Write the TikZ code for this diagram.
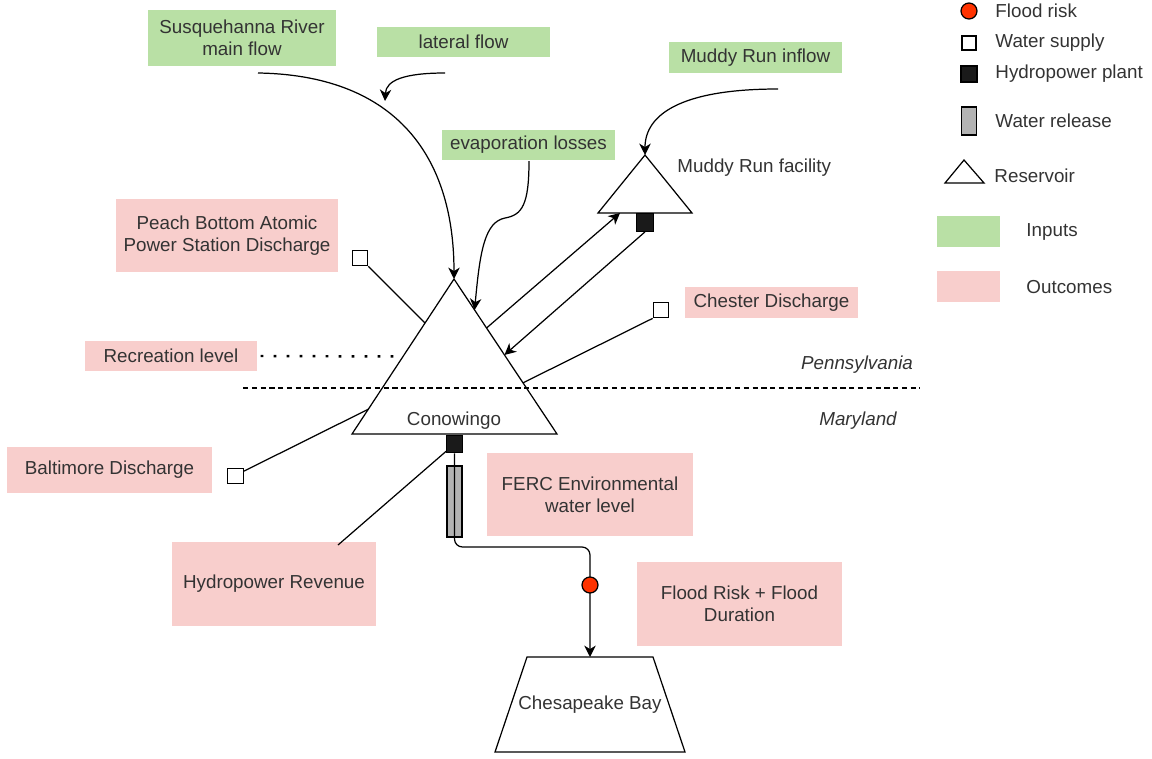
\documentclass[tikz,border=0pt]{standalone}
\usepackage{fontspec}
\setmainfont{Liberation Sans}
\usetikzlibrary{arrows.meta,calc}

\begin{document}
\begin{tikzpicture}[x=0.02cm, y=-0.02cm, line width=0.7pt,
    every node/.style={font=\fontsize{10.7}{12.5}\selectfont, text=textGrey},
    inputBox/.style={fill=inputGreen, align=center, inner sep=0pt},
    outcomeBox/.style={fill=outcomePink, align=center, inner sep=0pt},
    supplyBox/.style={draw=black, fill=white, minimum size=0.31cm, inner sep=0pt},
    plantBox/.style={draw=black, fill=plantBlack, minimum width=0.33cm, minimum height=0.35cm, inner sep=0pt},
    releaseBox/.style={draw=black, fill=releaseGrey, minimum width=0.3cm, inner sep=0pt},
    floodDot/.style={circle, draw=black, fill=floodRed, minimum size=0.32cm, inner sep=0pt},
    flow/.style={-{Stealth[length=6.5pt,width=6.5pt,inset=2pt]}}]
    \definecolor{textGrey}{HTML}{333333}
    \definecolor{inputGreen}{HTML}{B9E0A5}
    \definecolor{outcomePink}{HTML}{F8CECC}
    \definecolor{plantBlack}{HTML}{1A1A1A}
    \definecolor{releaseGrey}{HTML}{B3B3B3}
    \definecolor{floodRed}{HTML}{FF3300}

    \def\px{0.02cm}

    \useasboundingbox (0,0) rectangle (1152,758);

    % Inputs
    \node[inputBox, minimum width=188*\px, minimum height=56*\px] (mainFlow) at (242,38) {Susquehanna River\\main flow};
    \node[inputBox, minimum width=173*\px, minimum height=30*\px] (lateralFlow) at (463.5,42) {lateral flow};
    \node[inputBox, minimum width=173*\px, minimum height=31*\px] (muddyInflow) at (755.5,57.5) {Muddy Run inflow};
    \node[inputBox, minimum width=173*\px, minimum height=30*\px] (evaporation) at (528.5,145) {evaporation losses};

    % Outcomes
    \node[outcomeBox, minimum width=222*\px, minimum height=73*\px] (peachBottom) at (227,235.5) {Peach Bottom Atomic\\Power Station Discharge};
    \node[outcomeBox, minimum width=172*\px, minimum height=30*\px] (recreation) at (171,356) {Recreation level};
    \node[outcomeBox, minimum width=173*\px, minimum height=31*\px] (chester) at (771.5,302.5) {Chester Discharge};
    \node[outcomeBox, minimum width=205*\px, minimum height=46*\px] (baltimore) at (109.5,470) {Baltimore Discharge};
    \node[outcomeBox, minimum width=206*\px, minimum height=83*\px] (ferc) at (590,494.5) {FERC Environmental\\water level};
    \node[outcomeBox, minimum width=204*\px, minimum height=84*\px] (revenue) at (274,584) {Hydropower Revenue};
    \node[outcomeBox, minimum width=205*\px, minimum height=84*\px] (floodDuration) at (739.5,604) {Flood Risk + Flood\\Duration};

    % Conowingo reservoir
    \coordinate (conApex) at (454,279);
    \coordinate (conLeft) at (352,434);
    \coordinate (conRight) at (557,434);
    \draw (conApex) -- (conLeft) -- (conRight) -- cycle;
    \node (conowingo) at (454,421) {Conowingo};

    % Muddy Run reservoir
    \coordinate (mudApex) at (645,155);
    \coordinate (mudLeft) at (598,213);
    \coordinate (mudRight) at (692,213);
    \draw (mudApex) -- (mudLeft) -- (mudRight) -- cycle;
    \node[anchor=west] (muddyFacility) at (671,168) {Muddy Run facility};

    % State border
    \coordinate (borderW) at (243,388);
    \coordinate (borderE) at (920,388);
    \draw[dash pattern=on 3pt off 2pt] (borderW) -- (borderE);
    \node (pennsylvania) at (857,365) {\itshape Pennsylvania};
    \node (maryland) at (858,421) {\itshape Maryland};

    % Points on the reservoir sides
    \coordinate (pbEnd) at ($(conApex)!0.284!(conLeft)$);
    \coordinate (recEnd) at ($(conApex)!0.5!(conLeft)$);
    \coordinate (baltEnd) at ($(conApex)!0.84!(conLeft)$);
    \coordinate (evapEnd) at ($(conApex)!0.2!(conRight)$);
    \coordinate (toMudStart) at ($(conApex)!0.316!(conRight)$);
    \coordinate (fromMudEnd) at ($(conApex)!0.49!(conRight)$);
    \coordinate (chesterEnd) at ($(conApex)!0.67!(conRight)$);
    \coordinate (toMudEnd) at ($(mudLeft)!0.234!(mudRight)$);

    % Water supplies
    \node[supplyBox] (pbSupply) at (360,258) {};
    \node[supplyBox] (chesterSupply) at (661,310) {};
    \node[supplyBox] (baltSupply) at (235.5,476) {};
    \draw (pbSupply.south east) -- (pbEnd);
    \draw (chesterSupply.south west) -- (chesterEnd);
    \draw (baltSupply.30) -- (baltEnd);
    \draw[line width=1.4pt, dash pattern=on 1.6pt off 5.8pt] (recreation.east) ++(3*\px,0) -- (recEnd);

    % Inflows
    \coordinate (mainStart) at (258,73);
    \coordinate (lateralStart) at (445,73);
    \coordinate (lateralEnd) at (385,101);
    \coordinate (evapStart) at (529,161);
    \coordinate (muddyStart) at (778,89);
    \draw[flow] (mainStart) .. controls (390,75) and (454,150) .. (conApex);
    \draw[flow] (lateralStart) .. controls (405,73) and (386,80) .. (lateralEnd);
    \draw[flow] (evapStart) .. controls (529,205) and (522,215) .. (505,218)
        .. controls (485,222) and (480,250) .. (evapEnd);
    \draw[flow] (muddyStart) .. controls (680,89) and (645,115) .. (mudApex);

    % Pumped storage exchange
    \node[plantBox] (mudPlant) at (645,222.5) {};
    \draw[flow] (toMudStart) -- (toMudEnd);
    \draw[flow] (mudPlant.south) -- (fromMudEnd);

    % Release to the bay
    \coordinate (bayTop) at (590,657);
    \coordinate (bendPt) at (590,547);
    \node[releaseBox, minimum height=71*\px] (release) at (454.5,501.5) {};
    \coordinate (revTop) at (338,545);
    \draw (revTop) -- (454.5,444);
    \node[plantBox] (conPlant) at (454.5,444) {};
    \draw[flow, rounded corners=0.16cm] (conPlant.south) |- (bendPt) -- (bayTop);
    \node[floodDot] (floodPt) at (590,585) {};
    \draw (527,657) -- (653,657) -- (685,752) -- (495,752) -- cycle;
    \node (bay) at (590,705) {Chesapeake Bay};

    % Legend
    \node[floodDot] (legFlood) at (969,11) {};
    \node[anchor=west] (legFloodText) at (989,11) {Flood risk};
    \node[supplyBox, minimum size=0.28cm] (legSupply) at (969,43) {};
    \node[anchor=west] (legSupplyText) at (989,43) {Water supply};
    \node[plantBox, minimum width=0.32cm, minimum height=0.32cm] (legPlant) at (969,74) {};
    \node[anchor=west] (legPlantText) at (989,74) {Hydropower plant};
    \node[releaseBox, minimum width=0.3cm, minimum height=0.56cm] (legRelease) at (969,121) {};
    \node[anchor=west] (legReleaseText) at (989,121) {Water release};
    \draw (964,160) -- (945,183) -- (984,183) -- cycle;
    \node[anchor=west] (legReservoirText) at (988,176) {Reservoir};
    \node[inputBox, minimum width=63*\px, minimum height=31*\px] (legInputs) at (968.5,231.5) {};
    \node[anchor=west] (legInputsText) at (1020,232) {Inputs};
    \node[outcomeBox, minimum width=63*\px, minimum height=31*\px] (legOutcomes) at (968.5,286.5) {};
    \node[anchor=west] (legOutcomesText) at (1020,287) {Outcomes};

\end{tikzpicture}
\end{document}
